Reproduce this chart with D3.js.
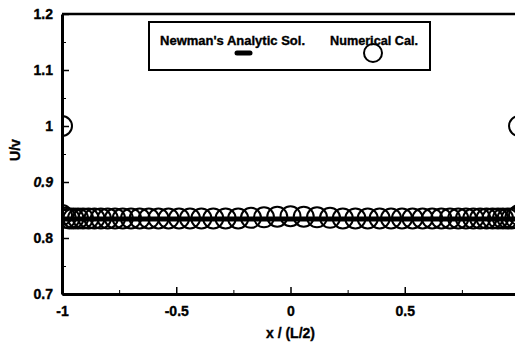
<!DOCTYPE html>
<html lang="en">
<head>
    <meta charset="UTF-8">
    <title>U/v vs x/(L/2)</title>
    <script src="https://cdn.jsdelivr.net/npm/d3@7"></script>
    <style>
        body { margin: 0; background: #fff; }
        text { font-family: "Liberation Sans", Arial, sans-serif; font-weight: bold; fill: #000;
               stroke: #000; stroke-width: 0.35px; }
    </style>
</head>
<body>
<script>
    // numerical points (x / (L/2)) - denser near the walls
    const xNum = [-1, -0.984, -0.968, -0.950, -0.930, -0.908, -0.884, -0.858, -0.830, -0.800,
        -0.768, -0.734, -0.698, -0.660, -0.620, -0.578, -0.534, -0.488, -0.440, -0.390,
        -0.338, -0.284, -0.229, -0.173, -0.116, -0.058, 0,
        0.058, 0.116, 0.173, 0.229, 0.284, 0.338, 0.390, 0.440, 0.488, 0.534,
        0.578, 0.620, 0.660, 0.698, 0.734, 0.768, 0.800, 0.830, 0.858, 0.884,
        0.908, 0.930, 0.950, 0.968, 0.984, 1];
    const uNum = [0.841, 0.836, 0.835, 0.835, 0.835, 0.835, 0.835, 0.835, 0.835, 0.835,
        0.835, 0.835, 0.835, 0.835, 0.835, 0.835, 0.835, 0.835, 0.835, 0.835,
        0.835, 0.835, 0.835, 0.836, 0.837, 0.838, 0.839,
        0.838, 0.837, 0.836, 0.835, 0.835, 0.835, 0.835, 0.835, 0.835, 0.835,
        0.835, 0.835, 0.835, 0.835, 0.835, 0.835, 0.835, 0.835, 0.835, 0.835,
        0.835, 0.835, 0.835, 0.835, 0.836, 0.841];
    // wall points
    const xWall = [-1, 1];
    const uWall = [1.0, 1.0];
    // Newman's analytic solution
    const xLine = [-1, 1];
    const uLine = [0.834, 0.834];

    const yTicks = [0.7, 0.8, 0.9, 1.0, 1.1, 1.2];
    const yTickLabels = ["0.7", "0.8", "0.9", "1", "1.1", "1.2"];
    const xTicks = [-1, -0.5, 0, 0.5, 1];
    const xTickLabels = ["-1", "-0.5", "0", "0.5", "1"];

    var w = 515, h = 342;

    var xScale = d3.scaleLinear().domain([-1, 1]).range([62, 519]);
    var yScale = d3.scaleLinear().domain([0.7, 1.2]).range([294, 14]);

    var svg = d3.select("body").append("svg")
        .attr("width", w).attr("height", h);

    // clip to plot area
    svg.append("clipPath").attr("id", "plot")
        .append("rect")
        .attr("x", xScale(-1)).attr("y", yScale(1.2))
        .attr("width", xScale(1) - xScale(-1)).attr("height", yScale(0.7) - yScale(1.2));

    // minor ticks
    svg.append("g")
        .attr("transform", "translate(" + xScale(-1) + ",0)")
        .call(d3.axisLeft(yScale).tickValues(d3.range(0.75, 1.2, 0.1)).tickSize(-4).tickFormat(""))
        .call(g => g.select(".domain").remove());
    svg.append("g")
        .attr("transform", "translate(0," + yScale(0.7) + ")")
        .call(d3.axisBottom(xScale).tickValues([-0.75, -0.25, 0.25, 0.75]).tickSize(-4).tickFormat(""))
        .call(g => g.select(".domain").remove());

    // y axis
    var yAxis = svg.append("g")
        .attr("transform", "translate(" + xScale(-1) + ",0)")
        .call(d3.axisLeft(yScale).tickValues(yTicks).tickSize(-7).tickSizeOuter(0).tickPadding(9)
            .tickFormat((d, i) => yTickLabels[i]));
    yAxis.select(".domain").attr("stroke-width", 3);
    yAxis.selectAll(".tick line").attr("stroke-width", 1.5);
    yAxis.selectAll(".tick text")
        .attr("font-size", 14)
        .attr("font-family", "Liberation Sans, Arial, sans-serif")
        .attr("font-weight", "bold")
        .attr("font-style", (d) => d === 0.9 ? "italic" : "normal");

    // x axis
    var xAxis = svg.append("g")
        .attr("transform", "translate(0," + yScale(0.7) + ")")
        .call(d3.axisBottom(xScale).tickValues(xTicks).tickSize(-7).tickSizeOuter(0).tickPadding(12)
            .tickFormat((d, i) => xTickLabels[i]));
    xAxis.select(".domain").attr("stroke-width", 3);
    xAxis.selectAll(".tick line").attr("stroke-width", 1.5);
    xAxis.selectAll(".tick text")
        .attr("font-size", 14)
        .attr("font-family", "Liberation Sans, Arial, sans-serif")
        .attr("font-weight", "bold");

    // top frame line
    svg.append("line")
        .attr("x1", xScale(-1)).attr("x2", xScale(1))
        .attr("y1", yScale(1.2)).attr("y2", yScale(1.2))
        .attr("stroke", "#000").attr("stroke-width", 2.5);

    // axis titles
    svg.append("text")
        .attr("x", xScale(0)).attr("y", 338)
        .attr("text-anchor", "middle")
        .attr("font-size", 14)
        .text("x / (L/2)");
    svg.append("text")
        .attr("transform", "translate(20,150) rotate(-90)")
        .attr("text-anchor", "middle")
        .attr("font-size", 14)
        .text("U/v");

    var plot = svg.append("g").attr("clip-path", "url(#plot)");

    // analytic line
    var line = d3.line().x(d => xScale(d[0])).y(d => yScale(d[1]));
    plot.append("path")
        .datum(xLine.map((x, i) => [x, uLine[i]]))
        .attr("d", line)
        .attr("fill", "none").attr("stroke", "#000").attr("stroke-width", 5);

    // numerical circles
    var pts = xNum.map((x, i) => [x, uNum[i]]).concat(xWall.map((x, i) => [x, uWall[i]]));
    plot.selectAll("circle.num")
        .data(pts)
        .enter()
        .append("circle")
        .attr("class", "num")
        .attr("cx", d => xScale(d[0]))
        .attr("cy", d => yScale(d[1]))
        .attr("r", 10)
        .attr("fill", "none")
        .attr("stroke", "#000")
        .attr("stroke-width", 2);

    // legend
    var lg = svg.append("g");
    lg.append("rect")
        .attr("x", 149).attr("y", 22).attr("width", 281).attr("height", 48)
        .attr("fill", "#fff").attr("stroke", "#000").attr("stroke-width", 2);
    lg.append("text")
        .attr("x", 160).attr("y", 45)
        .attr("font-size", 12.5)
        .attr("textLength", 145).attr("lengthAdjust", "spacingAndGlyphs")
        .text("Newman's Analytic Sol.");
    lg.append("text")
        .attr("x", 330).attr("y", 45)
        .attr("font-size", 12.5)
        .attr("textLength", 88).attr("lengthAdjust", "spacingAndGlyphs")
        .text("Numerical Cal.");
    lg.append("line")
        .attr("x1", 237).attr("x2", 250).attr("y1", 53).attr("y2", 53)
        .attr("stroke", "#000").attr("stroke-width", 5).attr("stroke-linecap", "round");
    lg.append("circle")
        .attr("cx", 373).attr("cy", 53).attr("r", 9)
        .attr("fill", "none").attr("stroke", "#000").attr("stroke-width", 2);
</script>
</body>
</html>
